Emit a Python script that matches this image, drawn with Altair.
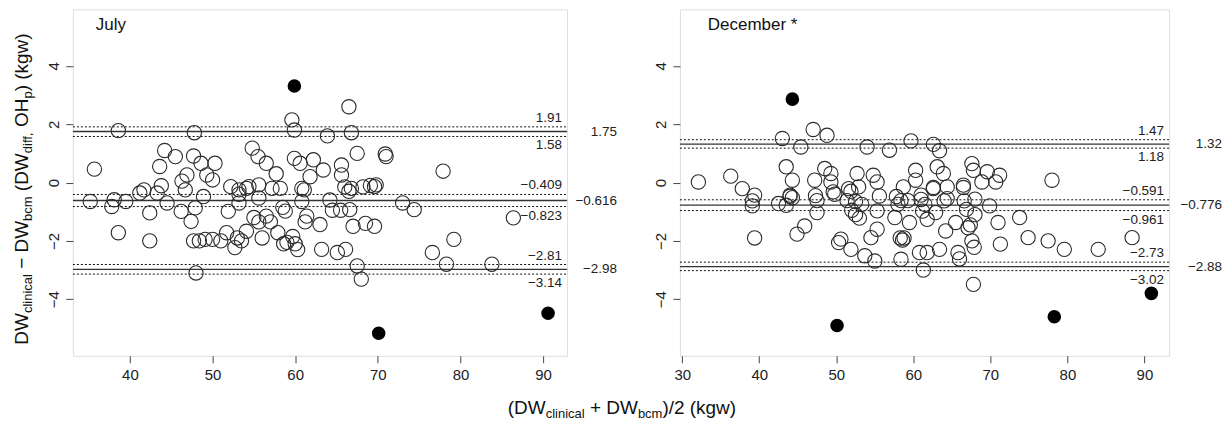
import altair as alt
import pandas as pd

# ---------------- data ----------------
july_x = [35.7, 38.6, 44.2, 45.5, 43.6, 47.7, 47.8, 48.6, 46.9, 46.3, 50.3, 49.3, 50.0, 54.8, 55.5,
          56.5, 57.7, 59.6, 59.9, 59.9, 60.6, 62.2, 61.8, 63.4, 63.9, 65.6, 65.6, 66.5, 66.8, 67.5,
          70.9, 71.0, 77.9, 52.2, 53.2, 54.1, 55.6, 57.2, 58.2, 60.8, 64.2, 66.0, 66.5, 66.8, 68.2,
          69.1, 69.8, 73.0, 35.2, 37.8, 38.1, 39.5, 38.6, 41.2, 41.7, 42.4, 42.4, 43.3, 43.8, 44.5,
          46.2, 46.7, 47.4, 47.9, 48.9, 47.7, 48.4, 49.1, 50.0, 51.0, 48.0, 51.7, 51.9, 52.7, 53.0,
          53.5, 53.2, 53.2, 54.1, 54.4, 55.0, 55.6, 55.6, 56.0, 56.5, 57.0, 57.9, 58.5, 58.8, 58.6,
          59.0, 59.7, 60.0, 60.3, 60.8, 61.2, 61.4, 61.1, 63.0, 63.2, 64.5, 65.5, 65.1, 66.1, 66.6,
          67.0, 67.5, 68.0, 68.5, 69.6, 69.6, 74.4, 76.6, 78.3, 79.2, 83.8, 86.4]
july_y = [0.46, 1.78, 1.10, 0.89, 0.55, 0.91, 1.71, 0.66, 0.26, 0.05, 0.66, 0.26, 0.09, 1.18, 0.89,
          0.66, 0.30, 2.15, 1.80, 0.83, 0.66, 0.78, 0.20, 0.43, 1.60, 0.60, 0.26, 2.60, 1.71, 1.00,
          0.98, 0.89, 0.39, -0.14, -0.25, -0.20, -0.08, -0.20, -0.20, -0.20, -0.60, -0.15, -0.30, -0.20, -0.15,
          -0.10, -0.08, -0.70, -0.65, -0.82, -0.59, -0.65, -1.72, -0.36, -0.25, -1.04, -2.00, -0.36, -0.11, -0.70,
          -0.99, -0.25, -1.33, -0.87, -0.48, -2.00, -2.00, -1.95, -1.95, -2.00, -3.10, -1.72, -0.99, -2.23, -1.90,
          -2.00, -0.70, -0.40, -1.67, -0.14, -1.20, -1.35, -0.53, -1.90, -1.15, -1.35, -1.72, -0.85, -0.98, -2.10,
          -2.05, -1.85, -2.10, -2.30, -0.65, -1.35, -1.15, -0.25, -1.44, -2.29, -0.95, -0.95, -2.40, -2.29, -0.93,
          -1.50, -2.86, -3.31, -1.40, -1.50, -0.14, -0.93, -2.40, -2.80, -1.95, -2.80, -1.21]
july_out_x = [59.9, 70.1, 90.6]
july_out_y = [3.31, -5.17, -4.48]
july_loa = [1.75, -0.616, -2.98]
july_hi = [1.91, -0.409, -2.81]
july_lo = [1.58, -0.823, -3.14]

dec_x = [32.1, 36.3, 37.8, 39.4, 43.0, 43.5, 44.3, 44.0, 45.4, 47.0, 48.8, 47.2, 48.5, 49.3, 49.3,
         49.6, 52.7, 51.6, 52.9, 54.0, 54.8, 55.3, 56.9, 58.7, 59.7, 60.3, 60.3, 61.0, 62.6, 63.4,
         63.1, 63.9, 62.6, 64.4, 66.5, 67.6, 67.8, 68.9, 69.6, 70.7, 71.2, 78.0, 39.1, 39.1, 39.4,
         42.5, 43.5, 44.3, 44.0, 44.9, 45.9, 47.3, 47.5, 47.5, 49.8, 50.3, 50.6, 51.4, 51.9, 52.0,
         52.5, 53.0, 52.5, 53.3, 51.9, 53.7, 55.0, 55.3, 54.5, 55.3, 55.6, 57.8, 58.0, 58.4, 57.6,
         58.3, 58.8, 58.6, 58.4, 59.3, 59.5, 61.0, 61.5, 61.2, 60.8, 61.8, 61.3, 61.8, 62.9, 62.6,
         63.4, 64.0, 64.4, 64.2, 65.5, 65.8, 66.0, 66.5, 66.6, 66.9, 67.1, 67.4, 67.6, 67.9, 68.0,
         68.0, 67.8, 69.9, 71.0, 71.3, 73.8, 74.9, 77.5, 79.6, 84.0, 88.4]
dec_y = [0.02, 0.22, -0.21, -0.43, 1.51, 0.54, 0.08, -0.43, 1.22, 1.82, 1.62, 0.08, 0.48, 0.31, 0.02,
         -0.32, 0.31, -0.21, -0.15, 1.22, 0.25, 0.02, 1.11, -0.15, 1.43, 0.42, 0.08, -0.43, 1.31, 1.09,
         0.54, 0.31, -0.21, -0.15, -0.09, 0.65, 0.42, 0.02, 0.37, 0.02, 0.25, 0.08, -0.63, -0.80, -1.90,
         -0.72, -0.78, -0.52, -0.47, -1.77, -1.49, -0.45, -0.62, -1.03, -0.40, -2.06, -1.94, -0.62, -0.30, -0.95,
         -1.10, -1.22, -0.65, -0.75, -2.29, -2.51, -2.69, -1.60, -1.89, -0.97, -0.46, -0.48, -0.75, -0.62, -1.20,
         -1.90, -1.90, -1.97, -2.63, -0.62, -1.37, -0.58, -0.75, -0.98, -2.40, -2.40, -3.00, -1.26, -1.03, -0.17,
         -2.29, -0.63, -0.55, -1.66, -1.37, -2.40, -2.62, -0.17, -0.63, -0.92, -1.55, -1.45, -2.00, -2.22, -0.57,
         -1.10, -3.49, -0.80, -1.37, -2.11, -1.20, -1.89, -2.00, -2.29, -2.29, -1.89]
dec_out_x = [44.3, 50.1, 78.3, 90.9]
dec_out_y = [2.86, -4.90, -4.60, -3.80]
dec_loa = [1.32, -0.776, -2.88]
dec_hi = [1.47, -0.591, -2.73]
dec_lo = [1.18, -0.961, -3.02]

y_ticks = [-4, -2, 0, 2, 4]
july_xticks = [40, 50, 60, 70, 80, 90]
dec_xticks = [30, 40, 50, 60, 70, 80, 90]

FONT = "Liberation Sans"
INK = "#2a2a2a"
YDOM = [-5.94, 5.94]
H = 347

# Arial / Liberation Sans advance widths (1/1000 em)
W = {'D': 722, 'W': 944, ' ': 278, '(': 333, ')': 333, '\u2212': 584, '+': 584, 'c': 500, 'l': 222,
     'i': 222, 'n': 556, 'a': 556, 'b': 556, 'm': 833, 'd': 556, 'f': 278, ',': 278, 'O': 778,
     'H': 722, 'p': 556, 'k': 500, 'g': 556, 'w': 722, '/': 278, '2': 556}


def layout(pieces, F, f):
    out, cur = [], 0.0
    for txt, sub in pieces:
        size = f if sub else F
        lead = len(txt) - len(txt.lstrip(' '))
        start = cur + lead * W[' '] * size / 1000
        cur += sum(W[c] for c in txt) * size / 1000
        out.append((txt.strip(' '), size, start, sub))
    return out, cur


def fmt(v):
    return f"{v:g}".replace("-", "\u2212")


def panel(xs, ys, ox, oy, loa, hi, lo, xdom, xticks, width, title, title_x, mean_x, extra=None):
    pts = pd.DataFrame({"x": xs, "y": ys})
    outs = pd.DataFrame({"x": ox, "y": oy})
    xenc = alt.X("x:Q", scale=alt.Scale(domain=xdom, nice=False, zero=False),
                 axis=alt.Axis(values=xticks, title=None, grid=False, domain=False, tickSize=7,
                               labelPadding=5, labelFontSize=15, labelFont=FONT, labelColor="#222",
                               tickColor="#444", format="d"))
    yenc = alt.Y("y:Q", scale=alt.Scale(domain=YDOM, nice=False, zero=False),
                 axis=alt.Axis(values=y_ticks, title=None, grid=False, domain=False, tickSize=7,
                               labelPadding=4, labelAngle=270, labelAlign="center",
                               labelBaseline="bottom", labelFontSize=15, labelFont=FONT,
                               labelColor="#222", tickColor="#444", format="d"))
    base_pts = alt.Chart(pts).mark_point(shape="circle", filled=False, size=205, strokeWidth=1.1,
                                          color=INK, opacity=1).encode(x=xenc, y=yenc)
    base_out = alt.Chart(outs).mark_point(shape="circle", filled=True, size=185, color="#000",
                                           opacity=1).encode(x="x:Q", y="y:Q")
    solid = pd.DataFrame({"y": loa, "t": [fmt(v) for v in loa]})
    hi_df = pd.DataFrame({"y": hi, "t": [fmt(v) for v in hi]})
    lo_df = pd.DataFrame({"y": lo, "t": [fmt(v) for v in lo]})
    dotted = pd.DataFrame({"y": hi + lo})
    l_solid = alt.Chart(solid).mark_rule(color="#333", strokeWidth=1.3).encode(
        y="y:Q", x=alt.value(0), x2=alt.value(width))
    l_dot = alt.Chart(dotted).mark_rule(color="#111", strokeWidth=1, strokeDash=[2, 2]).encode(
        y="y:Q", x=alt.value(0), x2=alt.value(width))
    tstyle = dict(font=FONT, fontSize=13.5, color="#222", align="right", baseline="middle")
    t_hi = alt.Chart(hi_df).mark_text(dy=-9, **tstyle).encode(
        y="y:Q", x=alt.value(width - 5), text="t:N")
    t_lo = alt.Chart(lo_df).mark_text(dy=9, **tstyle).encode(
        y="y:Q", x=alt.value(width - 5), text="t:N")
    t_mean = alt.Chart(solid).mark_text(**tstyle).encode(
        y="y:Q", x=alt.value(mean_x), text="t:N")
    ttl = alt.Chart(pd.DataFrame({"t": [title]})).mark_text(
        font=FONT, fontSize=17, color="#111", align="left", baseline="alphabetic").encode(
        x=alt.value(title_x), y=alt.value(21), text="t:N")
    layers = [l_dot, l_solid, base_pts, base_out, t_hi, t_lo, t_mean, ttl]
    if extra:
        layers += extra
    return alt.layer(*layers).properties(width=width, height=H)


def title_layers(pieces, F, f, vertical, cx, cy):
    parts, L = layout(pieces, F, f)
    res = []
    for txt, size, start, sub in parts:
        if vertical:
            x = cx + (4 if sub else 0)
            y = cy + L / 2 - start
            angle = 270
        else:
            x = cx - L / 2 + start
            y = cy + (4 if sub else 0)
            angle = 0
        res.append(alt.Chart(pd.DataFrame({"t": [txt]})).mark_text(
            font=FONT, fontSize=size, color="#111", align="left", baseline="alphabetic",
            angle=angle).encode(x=alt.value(x), y=alt.value(y), text="t:N"))
    return res


ytitle = [("DW", False), ("clinical", True), (" \u2212 DW", False), ("bcm", True), (" (DW", False),
          ("diff,", True), (" OH", False), ("p", True), (") (kgw)", False)]
xtitle = [("(DW", False), ("clinical", True), (" + DW", False), ("bcm", True), (")/2 (kgw)", False)]

extra = title_layers(ytitle, 19, 13, True, -45, 180) + title_layers(xtitle, 19, 13, False, 550, 405)

left = panel(july_x, july_y, july_out_x, july_out_y, july_loa, july_hi, july_lo,
             [33.1, 92.9], july_xticks, 495, "July", 23, 545, extra)
right = panel(dec_x, dec_y, dec_out_x, dec_out_y, dec_loa, dec_hi, dec_lo,
              [29.7, 93.2], dec_xticks, 490, "December *", 28, 543)

chart = alt.hconcat(left, right, spacing=113, bounds="flush").properties(
    padding={"left": 4, "top": 0, "right": 0, "bottom": 0}
).configure_view(stroke="#444", strokeWidth=1).configure(background="white")

chart.save("out.html", embed_options={"renderer": "svg", "actions": False})
